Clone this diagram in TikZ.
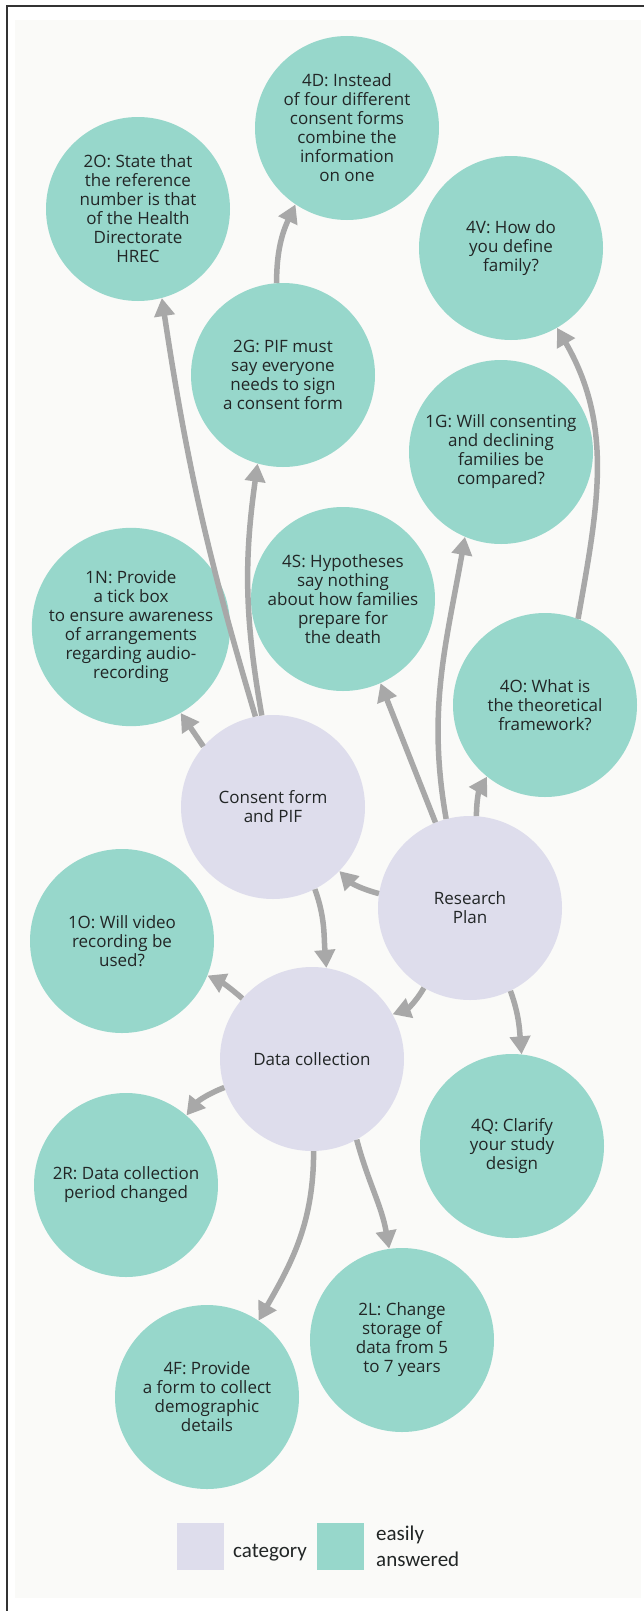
\documentclass[tikz,border=0pt]{standalone}
\usepackage{fontspec}
\setmainfont{Open Sans}
\newfontfamily\keyfont{Carlito}
\usepackage{tikz}
\usetikzlibrary{arrows.meta}
\definecolor{answered}{RGB}{151,215,203}
\definecolor{category}{RGB}{222,221,236}
\definecolor{linkgray}{RGB}{168,168,168}
\definecolor{paper}{RGB}{250,250,248}
\definecolor{ink}{RGB}{34,38,38}
\tikzset{
  bubble/.style={circle, fill=answered, minimum size=184pt, inner sep=0pt,
    align=center, text=ink, font=\fontsize{17}{19}\selectfont},
  catbubble/.style={bubble, fill=category},
  link/.style={-{Triangle[width=20pt,length=18pt]}, line width=5.5pt, draw=linkgray},
  keybox/.style={minimum size=47pt, inner sep=0pt},
  keytext/.style={inner sep=0pt, text=ink, font=\keyfont\fontsize{21}{26}\selectfont}
}

\begin{document}
\begin{tikzpicture}[x=1pt,y=-1pt]
  \useasboundingbox (0,0) rectangle (644,1611);
  %paper and frame
  \fill[paper] (15,20) rectangle (641,1598);
  \draw[line width=1.6pt, black!80] (7,1611) -- (7,6) -- (644,6);

  %the three categories
  \node (cons) at (273,807) [catbubble] {Consent form\\and PIF};
  \node (plan) at (470,908) [catbubble] {Research\\Plan};
  \node (data) at (312,1059) [catbubble] {Data collection};

  %easily answered items, top to bottom
  \node (q4D) at (347,128) [bubble] {4D: Instead\\of four different\\consent forms\\combine the\\information\\on one};
  \node (q2O) at (138,209) [bubble] {2O: State that\\the reference\\number is that\\of the Health\\Directorate\\HREC};
  \node (q4V) at (511,248) [bubble] {4V: How do\\you define\\family?};
  \node (q2G) at (283,375) [bubble] {2G: PIF must\\say everyone\\needs to sign\\a consent form};
  \node (q1G) at (501,452) [bubble] {1G: Will consenting\\and declining\\families be\\compared?};
  \node (q4S) at (343,599) [bubble] {4S: Hypotheses\\say nothing\\about how families\\prepare for\\the death};
  \node (q1N) at (131,627) [bubble] {1N: Provide\\a tick box\\to ensure awareness\\of arrangements\\regarding audio-\\recording};
  \node (q4O) at (545,705) [bubble] {4O: What is\\the theoretical\\framework?};
  \node (q1O) at (122,941) [bubble] {1O: Will video\\recording be\\used?};
  \node (q4Q) at (512,1146) [bubble] {4Q: Clarify\\your study\\design};
  \node (q2R) at (126,1185) [bubble] {2R: Data collection\\period changed};
  \node (q2L) at (402,1340) [bubble] {2L: Change\\storage of\\data from 5\\to 7 years};
  \node (q4F) at (207,1397) [bubble] {4F: Provide\\a form to collect\\demographic\\details};

  %links from consent form and PIF
  \draw[link] (cons.101) to[bend left=4] (q2O.-75);
  \draw[link] (cons.97) to[bend left=9] (q2G.-106);
  \draw[link] (cons.139) to (q1N.-60);
  \draw[link] (q2G.94) to[out=90,in=-115] (q4D.-124);
  \draw[link] (cons.-63) to[out=-70,in=95] (data.81);

  %links from research plan
  \draw[link] (plan.112) to (q4S.-66);
  \draw[link] (plan.105) to[out=100,in=-100] (q1G.-113);
  \draw[link] (plan.86) to[out=90,in=-120] (q4O.-129);
  \draw[link] (q4O.69) to[out=80,in=-60] (q4V.-60);
  \draw[link] (plan.171) to[bend left=15] (cons.-44);
  \draw[link] (plan.-120) to[bend left=20] (data.29);
  \draw[link] (plan.-64) to[out=-70,in=95] (q4Q.84);

  %links from data collection
  \draw[link] (data.139) to[bend right=8] (q1O.-22);
  \draw[link] (data.198) to[bend right=15] (q2R.49);
  \draw[link] (data.-89) to[out=-90,in=60] (q4F.56);
  \draw[link] (data.-61) to[out=-75,in=100] (q2L.98);

  %legend
  \node (keycat) at (200,1546.5) [keybox, fill=category] {};
  \node (keycattext) at (233,1557) [keytext, anchor=base west] {category};
  \node (keyans) at (340,1546) [keybox, fill=answered] {};
  \node (keyanstext1) at (376,1540) [keytext, anchor=base west] {easily};
  \node (keyanstext2) at (376,1566) [keytext, anchor=base west] {answered};
\end{tikzpicture}
\end{document}
